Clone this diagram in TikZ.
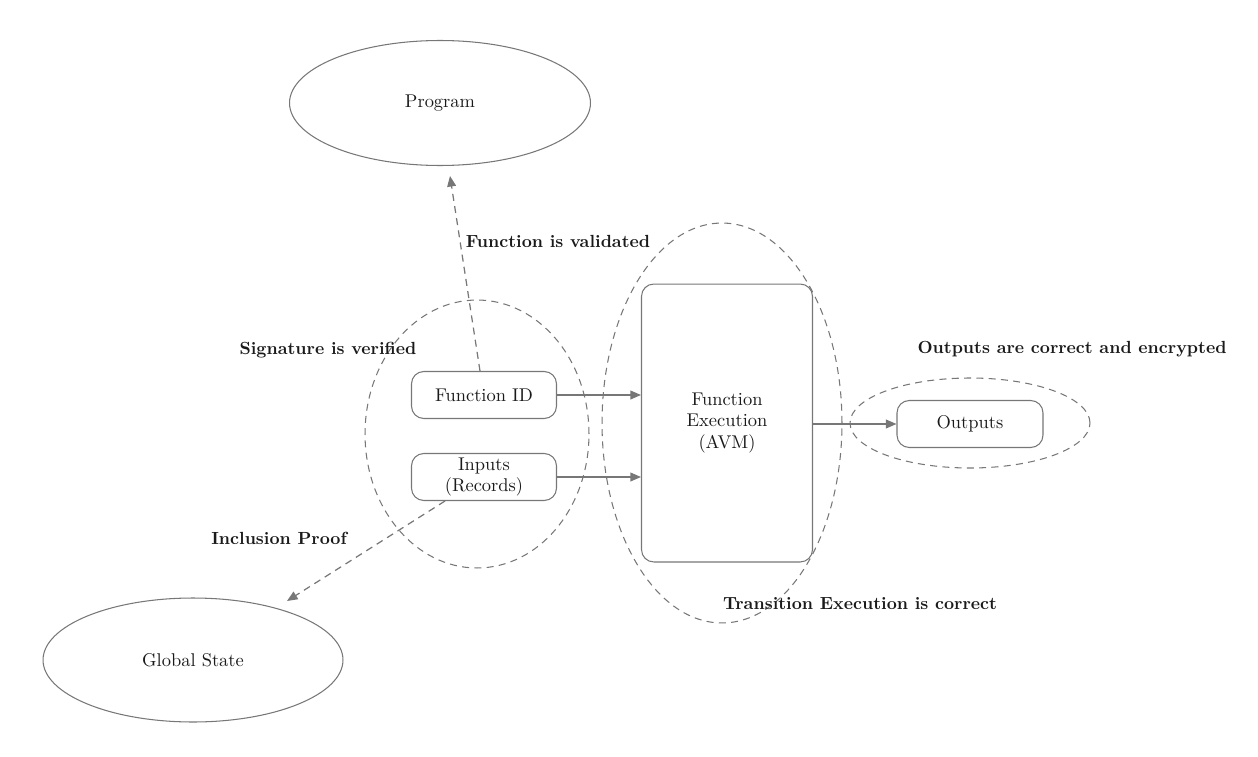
\documentclass[tikz,border=0pt]{standalone}
\usepackage{fontspec}
\usetikzlibrary{shapes.geometric,arrows.meta}
\definecolor{ln}{HTML}{777777}
\definecolor{tx}{HTML}{1A1A1A}
\tikzset{
  px/.style={x=0.02cm,y=-0.02cm},
  solidell/.style={ellipse,draw=ln,line width=0.6pt,inner sep=0pt,text=tx,font=\fontsize{10.5}{12}\selectfont},
  dashell/.style={ellipse,draw=ln,dashed,dash pattern=on 4pt off 3pt,line width=0.6pt,inner sep=0pt},
  rbox/.style={rectangle,rounded corners=7pt,draw=ln,line width=0.6pt,align=center,text=tx,inner sep=0pt,font=\fontsize{10.5}{12}\selectfont},
  lbl/.style={font=\bfseries\fontsize{10}{12}\selectfont,text=tx},
  arr/.style={draw=ln,line width=0.7pt,-{Triangle[length=6pt,width=5pt]}},
  darr/.style={arr,dashed,dash pattern=on 4pt off 3pt},
}
\begin{document}
\begin{tikzpicture}[px]
\useasboundingbox (0,0) rectangle (1258,757);
% ellipses
\node[solidell,minimum width=6.02cm,minimum height=2.5cm] (prog) at (440,103) {Program};
\node[solidell,minimum width=6.0cm,minimum height=2.48cm] (gs) at (193,660) {Global State};
\node[dashell,minimum width=4.48cm,minimum height=5.36cm] (e1) at (477,434) {};
\node[dashell,minimum width=4.8cm,minimum height=8.0cm] (e2) at (722,423) {};
\node[dashell,minimum width=4.8cm,minimum height=1.8cm] (e3) at (970,423) {};
% boxes
\node[rbox,minimum width=2.9cm,minimum height=0.94cm] (fid) at (484,395) {Function ID};
\node[rbox,minimum width=2.9cm,minimum height=0.94cm] (inp) at (484,477) {Inputs\\(Records)};
\node[rbox,minimum width=3.42cm,minimum height=5.56cm] (exe) at (727,423) {Function\\Execution\\(AVM)};
\node[rbox,minimum width=2.92cm,minimum height=0.94cm] (out) at (970,424) {Outputs};
% arrows
\draw[arr] (fid.east) -- (fid.east -| exe.west);
\draw[arr] (inp.east) -- (inp.east -| exe.west);
\draw[arr] (exe.east |- out.west) -- (out.west);
\coordinate (pt) at (450,176);
\coordinate (gt) at (287,601);
\draw[darr] (fid.north -| 480,0) -- (pt);
\draw[darr] (inp.south -| 445,0) -- (gt);
% labels
\node[lbl] (l1) at (558,241) {Function is validated};
\node[lbl] (l2) at (328,350) {Signature is verified};
\node[lbl] (l3) at (1072,349) {Outputs are correct and encrypted};
\node[lbl] (l4) at (279,538) {Inclusion Proof};
\node[lbl] (l5) at (860,604) {Transition Execution is correct};
\end{tikzpicture}
\end{document}
